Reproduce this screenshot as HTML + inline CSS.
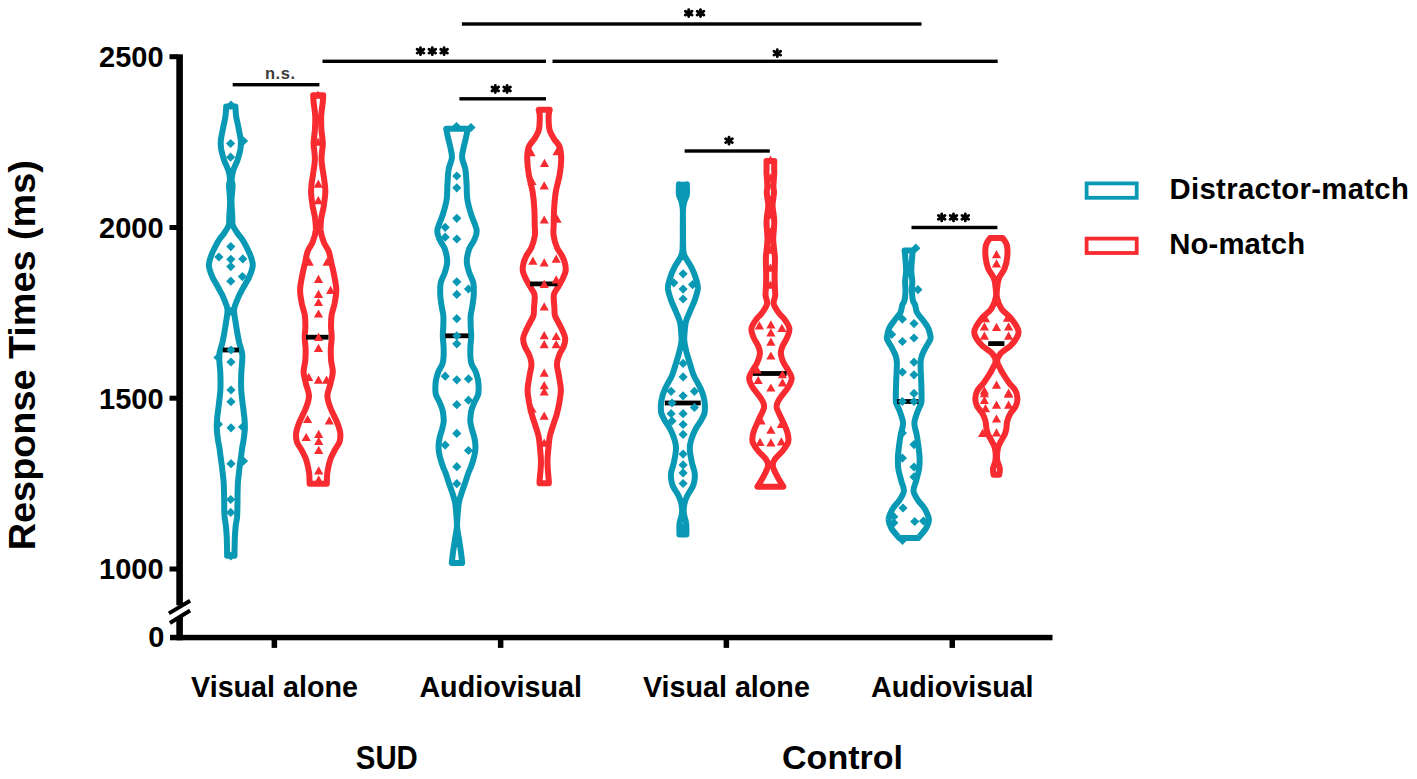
<!DOCTYPE html>
<html><head><meta charset="utf-8"><title>Response Times</title>
<style>html,body{margin:0;padding:0;background:#fff;}svg{display:block;}text{font-family:"Liberation Sans",sans-serif;}</style>
</head><body>
<svg width="1417" height="779" viewBox="0 0 1417 779" font-family="Liberation Sans, sans-serif">
<rect width="1417" height="779" fill="#fff"/>
<g fill="#000">
<rect x="176.3" y="54.3" width="6.6" height="551"/>
<rect x="176.3" y="617" width="6.6" height="23.3"/>
<rect x="170" y="634.8" width="882.5" height="5.5"/>
<rect x="169.5" y="54.2" width="8" height="5"/>
<rect x="169.5" y="225.0" width="8" height="5"/>
<rect x="169.5" y="395.7" width="8" height="5"/>
<rect x="169.5" y="566.5" width="8" height="5"/>
<rect x="271.6" y="636" width="5.5" height="11.9"/>
<rect x="497.9" y="636" width="5.5" height="11.9"/>
<rect x="723.6" y="636" width="5.5" height="11.9"/>
<rect x="949.5" y="636" width="5.5" height="11.9"/>
</g>
<g stroke="#000" stroke-width="3.9" fill="none"><line x1="168.9" y1="613.4" x2="190.1" y2="600.8"/><line x1="169.9" y1="623" x2="190.1" y2="610.5"/></g>
<g font-weight="bold" font-size="29" text-anchor="end" fill="#000">
<text x="163.6" y="67.0">2500</text>
<text x="163.6" y="237.8">2000</text>
<text x="163.6" y="408.5">1500</text>
<text x="163.6" y="579.3">1000</text>
<text x="164.3" y="647.3">0</text>
</g>
<g font-weight="bold" font-size="28.7" text-anchor="middle" fill="#000">
<text x="274.5" y="696.5">Visual alone</text>
<text x="500.7" y="696.5">Audiovisual</text>
<text x="726.4" y="696.5">Visual alone</text>
<text x="952.3" y="696.5">Audiovisual</text>
</g>
<text transform="translate(386.8,768.6) scale(0.865,1)" font-weight="bold" font-size="34" text-anchor="middle">SUD</text>
<text x="842.5" y="768.6" font-weight="bold" font-size="34" text-anchor="middle">Control</text>
<text transform="translate(34.9,355.2) rotate(-90)" font-weight="bold" font-size="37.8" text-anchor="middle">Response Times (ms)</text>
<rect x="1086.6" y="183.4" width="50.1" height="14.4" fill="none" stroke="#0999b4" stroke-width="3.8"/>
<rect x="1086.6" y="238.6" width="50.1" height="14.4" fill="none" stroke="#f72b30" stroke-width="3.8"/>
<text x="1169.5" y="199.2" font-weight="bold" font-size="29.3" letter-spacing="0.33">Distractor-match</text>
<text x="1169.3" y="254.4" font-weight="bold" font-size="29.3" letter-spacing="0.1">No-match</text>
<g fill="#000">
<rect x="461.9" y="22.3" width="459.6" height="3.4"/>
<rect x="322.5" y="59.6" width="223.5" height="3.4"/>
<rect x="552.5" y="59.6" width="445.2" height="3.4"/>
<rect x="232.7" y="83.0" width="86.7" height="3.4"/>
<rect x="459.4" y="97.1" width="86.6" height="3.4"/>
<rect x="684.6" y="149.3" width="85.2" height="3.4"/>
<rect x="911.5" y="225.8" width="85.9" height="3.4"/>
</g>
<path d="M688.70,9.60L688.70,16.60M685.37,11.18L692.03,15.02M685.37,15.02L692.03,11.18M700.50,9.60L700.50,16.60M697.17,11.18L703.83,15.02M697.17,15.02L703.83,11.18M420.50,47.70L420.50,54.70M417.17,49.28L423.83,53.12M417.17,53.12L423.83,49.28M432.30,47.70L432.30,54.70M428.97,49.28L435.63,53.12M428.97,53.12L435.63,49.28M444.10,47.70L444.10,54.70M440.77,49.28L447.43,53.12M440.77,53.12L447.43,49.28M777.30,49.70L777.30,56.70M773.97,51.28L780.63,55.12M773.97,55.12L780.63,51.28M495.30,85.50L495.30,92.50M491.97,87.08L498.63,90.92M491.97,90.92L498.63,87.08M507.10,85.50L507.10,92.50M503.77,87.08L510.43,90.92M503.77,90.92L510.43,87.08M729.00,137.20L729.00,144.20M725.67,138.77L732.33,142.62M725.67,142.62L732.33,138.77M941.70,213.90L941.70,220.90M938.37,215.47L945.03,219.33M938.37,219.33L945.03,215.47M953.50,213.90L953.50,220.90M950.17,215.47L956.83,219.33M950.17,219.33L956.83,215.47M965.30,213.90L965.30,220.90M961.97,215.47L968.63,219.33M961.97,219.33L968.63,215.47" stroke="#000" stroke-width="2.8" stroke-linecap="round" fill="none"/>
<text x="280.3" y="79" font-size="16.5" font-weight="bold" text-anchor="middle" fill="#3c3c3c" letter-spacing="0.6">n.s.</text>
<path d="M235.4,106.5 C235.5,108.2 235.7,113.3 236.2,116.8 C236.8,120.3 237.7,123.7 238.5,127.7 C239.2,131.7 240.5,137.2 240.8,140.8 C241.1,144.4 240.9,146.2 240.4,149.5 C239.8,152.8 238.6,156.8 237.4,160.4 C236.1,164.0 233.9,168.0 233.0,171.3 C232.0,174.6 231.7,177.7 231.6,180.0 C231.5,182.3 232.6,181.9 232.6,185.4 C232.6,188.9 231.6,195.7 231.5,200.8 C231.4,205.9 232.1,212.2 232.3,216.2 C232.5,220.2 232.0,222.2 232.8,225.0 C233.6,227.8 235.8,230.7 237.3,233.0 C238.8,235.3 240.4,236.6 241.9,238.9 C243.4,241.2 245.0,244.0 246.3,246.6 C247.6,249.2 248.9,251.5 250.0,254.3 C251.0,257.1 252.3,260.9 252.7,263.5 C253.0,266.1 252.5,267.4 251.9,269.7 C251.3,272.0 250.2,274.8 249.0,277.4 C247.8,280.0 246.2,282.5 244.8,285.1 C243.3,287.7 241.7,290.5 240.5,292.8 C239.3,295.1 238.7,296.2 237.6,299.0 C236.5,301.8 234.4,305.4 234.1,309.5 C233.8,313.6 235.0,318.4 235.8,323.8 C236.6,329.2 237.9,336.6 239.0,341.8 C240.1,347.0 241.9,349.8 242.3,355.0 C242.7,360.2 241.5,367.0 241.3,373.0 C241.1,379.0 240.8,383.5 241.3,391.0 C241.8,398.5 243.8,411.8 244.4,418.0 C245.0,424.2 244.9,425.4 244.9,428.2 C244.8,431.0 244.5,432.5 244.3,434.6 C244.1,436.8 243.7,439.0 243.4,441.1 C243.1,443.2 242.6,445.4 242.2,447.5 C241.9,449.6 241.7,451.8 241.4,453.9 C241.1,456.0 240.8,458.2 240.5,460.3 C240.2,462.4 239.9,464.6 239.7,466.7 C239.4,468.8 239.2,470.5 238.9,473.2 C238.6,475.9 238.1,479.6 237.9,482.8 C237.7,486.0 237.7,489.3 237.6,492.5 C237.5,495.7 237.5,498.9 237.5,502.1 C237.4,505.3 237.4,509.0 237.3,511.7 C237.2,514.4 237.2,515.7 237.0,518.1 C236.7,520.5 236.0,522.9 235.7,525.9 C235.4,528.9 235.1,532.8 234.9,536.2 C234.7,539.6 234.7,543.4 234.6,546.5 C234.5,549.6 234.5,553.2 234.5,554.7 C234.5,556.2 234.5,555.6 234.5,555.8 L227.1,555.8 C227.1,555.6 227.1,556.2 227.1,554.7 C227.1,553.2 227.1,549.6 227.0,546.5 C226.9,543.4 226.9,539.6 226.7,536.2 C226.5,532.8 226.2,528.9 225.9,525.9 C225.6,522.9 224.9,520.5 224.7,518.1 C224.4,515.7 224.4,514.4 224.3,511.7 C224.2,509.0 224.2,505.3 224.2,502.1 C224.1,498.9 224.1,495.7 224.0,492.5 C223.9,489.3 223.9,486.0 223.7,482.8 C223.5,479.6 223.0,475.9 222.7,473.2 C222.4,470.5 222.2,468.8 222.0,466.7 C221.7,464.6 221.4,462.4 221.1,460.3 C220.8,458.2 220.5,456.0 220.2,453.9 C219.9,451.8 219.7,449.6 219.4,447.5 C219.0,445.4 218.5,443.2 218.2,441.1 C217.9,439.0 217.5,436.8 217.3,434.6 C217.1,432.5 216.8,431.0 216.8,428.2 C216.7,425.4 216.6,424.2 217.2,418.0 C217.8,411.8 219.8,398.5 220.3,391.0 C220.8,383.5 220.5,379.0 220.3,373.0 C220.1,367.0 218.9,360.2 219.3,355.0 C219.7,349.8 221.5,347.0 222.6,341.8 C223.7,336.6 225.0,329.2 225.8,323.8 C226.6,318.4 227.8,313.6 227.5,309.5 C227.2,305.4 225.1,301.8 224.0,299.0 C222.9,296.2 222.3,295.1 221.1,292.8 C219.9,290.5 218.3,287.7 216.9,285.1 C215.4,282.5 213.8,280.0 212.6,277.4 C211.4,274.8 210.3,272.0 209.7,269.7 C209.1,267.4 208.6,266.1 209.0,263.5 C209.3,260.9 210.6,257.1 211.7,254.3 C212.7,251.5 214.0,249.2 215.3,246.6 C216.6,244.0 218.2,241.2 219.7,238.9 C221.2,236.6 222.8,235.3 224.3,233.0 C225.8,230.7 228.0,227.8 228.8,225.0 C229.6,222.2 229.1,220.2 229.3,216.2 C229.5,212.2 230.2,205.9 230.1,200.8 C230.1,195.7 229.0,188.9 229.0,185.4 C229.0,181.9 230.1,182.3 230.0,180.0 C229.9,177.7 229.6,174.6 228.7,171.3 C227.7,168.0 225.5,164.0 224.2,160.4 C223.0,156.8 221.8,152.8 221.2,149.5 C220.7,146.2 220.5,144.4 220.8,140.8 C221.1,137.2 222.4,131.7 223.2,127.7 C223.9,123.7 224.8,120.3 225.4,116.8 C225.9,113.3 226.1,108.2 226.2,106.5 Z" fill="none" stroke="#0999b4" stroke-width="6.0" stroke-linejoin="round"/>
<path d="M323.2,95.2 C323.1,96.3 323.2,98.5 322.8,101.9 C322.5,105.3 321.4,111.1 321.2,115.7 C321.0,120.3 321.2,125.0 321.4,129.6 C321.7,134.2 322.8,139.7 322.8,143.5 C322.9,147.3 322.1,149.8 321.9,152.7 C321.7,155.6 321.4,157.5 321.6,160.8 C321.7,164.1 322.5,168.5 323.1,172.3 C323.6,176.2 324.4,180.4 324.8,183.9 C325.1,187.4 325.5,189.3 325.3,193.2 C325.1,197.0 324.2,202.8 323.6,207.0 C322.9,211.2 321.7,214.8 321.2,218.6 C320.8,222.4 320.3,226.2 320.6,230.1 C321.0,233.9 322.2,238.1 323.6,241.7 C324.9,245.3 327.4,247.9 328.8,251.5 C330.1,255.1 330.5,259.2 331.4,263.1 C332.3,267.0 333.2,270.2 334.0,274.6 C334.8,279.0 336.2,284.9 336.3,289.7 C336.4,294.5 335.3,299.3 334.6,303.5 C333.8,307.7 332.2,311.4 331.6,315.1 C331.1,318.9 331.0,322.3 331.0,326.0 C331.0,329.7 331.7,333.5 331.7,337.3 C331.7,341.1 330.9,345.0 330.8,348.9 C330.7,352.8 330.8,356.5 331.1,360.4 C331.4,364.2 332.9,368.1 332.8,372.0 C332.7,375.9 331.4,379.5 330.5,383.5 C329.6,387.5 327.4,391.9 327.4,396.0 C327.4,400.1 328.9,403.7 330.4,407.8 C331.9,411.9 335.0,417.5 336.4,420.7 C337.8,423.9 338.1,424.7 338.8,427.0 C339.5,429.3 340.3,431.8 340.4,434.3 C340.5,436.8 340.4,439.4 339.5,442.0 C338.6,444.6 336.5,446.8 335.0,449.7 C333.5,452.6 331.7,455.5 330.4,459.2 C329.1,462.9 328.0,468.2 327.4,472.1 C326.8,476.0 326.9,480.4 326.8,482.3 C326.7,484.2 326.8,483.6 326.8,483.8 L309.6,483.8 C309.6,483.6 309.7,484.2 309.6,482.3 C309.5,480.4 309.6,476.0 309.0,472.1 C308.4,468.2 307.3,462.9 306.0,459.2 C304.7,455.5 302.9,452.6 301.4,449.7 C299.9,446.8 297.8,444.6 296.9,442.0 C296.0,439.4 295.9,436.8 296.0,434.3 C296.1,431.8 296.9,429.3 297.6,427.0 C298.3,424.7 298.6,423.9 300.0,420.7 C301.4,417.5 304.5,411.9 306.0,407.8 C307.5,403.7 309.0,400.1 309.0,396.0 C309.0,391.9 306.8,387.5 305.9,383.5 C305.0,379.5 303.7,375.9 303.6,372.0 C303.5,368.1 305.0,364.2 305.3,360.4 C305.6,356.5 305.7,352.8 305.6,348.9 C305.5,345.0 304.7,341.1 304.7,337.3 C304.7,333.5 305.4,329.7 305.4,326.0 C305.4,322.3 305.3,318.9 304.8,315.1 C304.2,311.4 302.6,307.7 301.8,303.5 C301.1,299.3 300.0,294.5 300.1,289.7 C300.2,284.9 301.6,279.0 302.4,274.6 C303.2,270.2 304.1,267.0 305.0,263.1 C305.9,259.2 306.3,255.1 307.6,251.5 C309.0,247.9 311.5,245.3 312.8,241.7 C314.2,238.1 315.4,233.9 315.8,230.1 C316.1,226.2 315.6,222.4 315.1,218.6 C314.7,214.8 313.5,211.2 312.8,207.0 C312.2,202.8 311.2,197.0 311.1,193.2 C310.9,189.3 311.3,187.4 311.6,183.9 C312.0,180.4 312.8,176.2 313.3,172.3 C313.9,168.5 314.7,164.1 314.8,160.8 C315.0,157.5 314.7,155.6 314.5,152.7 C314.3,149.8 313.5,147.3 313.6,143.5 C313.6,139.7 314.7,134.2 314.9,129.6 C315.2,125.0 315.4,120.3 315.2,115.7 C315.0,111.1 313.9,105.3 313.6,101.9 C313.2,98.5 313.3,96.3 313.2,95.2 Z" fill="none" stroke="#f72b30" stroke-width="6.0" stroke-linejoin="round"/>
<path d="M467.8,128.8 C467.5,130.2 466.8,134.1 466.1,137.2 C465.4,140.3 464.3,144.1 463.6,147.5 C462.9,150.9 461.8,154.2 462.1,157.9 C462.5,161.6 464.7,165.3 465.4,169.7 C466.2,174.1 466.2,179.6 466.6,184.5 C466.9,189.4 466.6,194.3 467.3,199.2 C468.0,204.1 469.4,208.9 471.0,214.0 C472.6,219.1 476.0,225.6 476.6,229.8 C477.2,234.1 475.7,236.3 474.4,239.5 C473.2,242.7 470.4,245.4 469.1,249.1 C467.9,252.8 466.7,257.6 466.8,261.6 C466.8,265.6 468.3,269.7 469.4,273.2 C470.5,276.7 472.6,279.3 473.3,282.8 C474.0,286.3 473.9,290.2 473.8,294.0 C473.7,297.8 473.0,301.7 472.5,305.3 C472.0,308.9 471.0,312.1 470.7,315.5 C470.4,318.9 470.6,322.4 470.7,325.8 C470.8,329.2 471.2,332.7 471.2,336.1 C471.2,339.5 470.6,342.9 470.4,346.3 C470.3,349.7 470.2,353.7 470.4,356.6 C470.6,359.5 470.7,361.4 471.6,363.9 C472.5,366.4 474.5,369.0 475.6,371.6 C476.6,374.2 477.3,376.7 477.9,379.3 C478.4,381.9 478.6,384.4 478.6,387.0 C478.7,389.6 478.8,392.1 478.1,394.7 C477.3,397.3 475.5,399.8 474.4,402.4 C473.3,404.9 472.1,407.7 471.5,410.0 C470.9,412.3 470.8,414.1 470.6,416.0 C470.4,417.9 470.1,419.4 470.3,421.6 C470.5,423.8 471.2,426.7 471.9,429.3 C472.6,431.9 473.7,434.4 474.2,437.0 C474.8,439.6 475.2,442.1 475.4,444.7 C475.5,447.3 475.4,449.8 475.0,452.4 C474.6,455.0 474.0,457.5 473.2,460.1 C472.5,462.7 471.4,465.6 470.6,467.8 C469.7,470.0 469.0,471.3 468.2,473.5 C467.4,475.7 466.8,477.9 465.8,480.9 C464.8,483.8 463.4,487.8 462.2,491.2 C461.1,494.6 459.9,498.1 459.1,501.5 C458.4,504.9 458.2,507.5 457.9,511.7 C457.6,515.9 456.9,522.1 457.1,526.7 C457.3,531.3 458.4,535.0 459.0,539.2 C459.6,543.4 460.4,547.9 460.9,551.7 C461.4,555.5 461.9,559.9 462.1,561.8 C462.4,563.7 462.1,562.7 462.1,562.9 L451.9,562.9 C451.9,562.7 451.6,563.7 451.9,561.8 C452.1,559.9 452.6,555.5 453.1,551.7 C453.6,547.9 454.4,543.4 455.0,539.2 C455.6,535.0 456.7,531.3 456.9,526.7 C457.1,522.1 456.4,515.9 456.1,511.7 C455.8,507.5 455.6,504.9 454.9,501.5 C454.1,498.1 452.9,494.6 451.8,491.2 C450.6,487.8 449.2,483.8 448.2,480.9 C447.2,477.9 446.6,475.7 445.8,473.5 C445.0,471.3 444.3,470.0 443.4,467.8 C442.6,465.6 441.5,462.7 440.8,460.1 C440.0,457.5 439.4,455.0 439.0,452.4 C438.6,449.8 438.5,447.3 438.6,444.7 C438.8,442.1 439.2,439.6 439.8,437.0 C440.3,434.4 441.4,431.9 442.1,429.3 C442.8,426.7 443.5,423.8 443.7,421.6 C443.9,419.4 443.6,417.9 443.4,416.0 C443.2,414.1 443.1,412.3 442.5,410.0 C441.9,407.7 440.7,404.9 439.6,402.4 C438.5,399.8 436.7,397.3 435.9,394.7 C435.2,392.1 435.3,389.6 435.4,387.0 C435.4,384.4 435.6,381.9 436.1,379.3 C436.7,376.7 437.4,374.2 438.4,371.6 C439.5,369.0 441.5,366.4 442.4,363.9 C443.3,361.4 443.4,359.5 443.6,356.6 C443.8,353.7 443.7,349.7 443.6,346.3 C443.4,342.9 442.8,339.5 442.8,336.1 C442.8,332.7 443.2,329.2 443.3,325.8 C443.4,322.4 443.6,318.9 443.3,315.5 C443.0,312.1 442.0,308.9 441.5,305.3 C441.0,301.7 440.3,297.8 440.2,294.0 C440.1,290.2 440.0,286.3 440.7,282.8 C441.4,279.3 443.5,276.7 444.6,273.2 C445.7,269.7 447.2,265.6 447.2,261.6 C447.3,257.6 446.1,252.8 444.9,249.1 C443.6,245.4 440.8,242.7 439.6,239.5 C438.3,236.3 436.8,234.1 437.4,229.8 C438.0,225.6 441.4,219.1 443.0,214.0 C444.6,208.9 446.0,204.1 446.7,199.2 C447.4,194.3 447.1,189.4 447.4,184.5 C447.8,179.6 447.8,174.1 448.6,169.7 C449.3,165.3 451.5,161.6 451.9,157.9 C452.2,154.2 451.1,150.9 450.4,147.5 C449.7,144.1 448.6,140.3 447.9,137.2 C447.2,134.1 446.5,130.2 446.2,128.8 Z" fill="none" stroke="#0999b4" stroke-width="6.0" stroke-linejoin="round"/>
<path d="M549.7,109.7 C549.5,110.9 548.6,113.3 548.6,116.7 C548.6,120.1 548.7,126.4 549.6,130.0 C550.5,133.6 552.1,135.6 553.8,138.4 C555.4,141.2 558.3,143.4 559.6,146.7 C560.8,150.0 561.2,153.7 561.2,158.4 C561.2,163.1 560.5,169.4 559.6,175.0 C558.6,180.6 556.7,186.2 555.8,191.8 C554.9,197.4 554.5,202.9 554.1,208.5 C553.8,214.1 553.8,220.7 553.7,225.2 C553.6,229.7 553.0,231.7 553.6,235.4 C554.1,239.2 555.6,244.4 557.0,247.7 C558.4,251.0 560.5,252.8 561.8,255.4 C563.1,258.0 564.3,260.5 564.9,263.1 C565.5,265.7 566.0,268.2 565.7,270.8 C565.3,273.4 563.9,275.9 562.8,278.5 C561.6,281.1 560.0,283.6 558.6,286.2 C557.1,288.8 554.9,291.5 554.1,293.9 C553.3,296.3 553.8,298.2 553.8,300.5 C553.9,302.8 554.2,305.2 554.4,307.7 C554.6,310.2 554.2,312.8 554.9,315.4 C555.6,318.0 557.4,320.5 558.7,323.1 C560.0,325.7 561.5,328.2 562.6,330.8 C563.7,333.4 565.1,335.9 565.2,338.5 C565.4,341.1 564.7,343.6 563.8,346.2 C562.8,348.8 560.7,351.6 559.7,353.9 C558.7,356.2 558.1,358.0 557.6,360.0 C557.1,362.0 556.8,363.4 557.0,366.0 C557.2,368.6 558.3,371.9 558.9,375.9 C559.5,379.9 560.8,385.6 560.9,390.1 C560.9,394.7 559.8,399.2 559.2,403.2 C558.5,407.2 557.7,410.5 556.8,414.1 C555.8,417.7 554.3,421.4 553.2,425.0 C552.1,428.6 550.7,432.3 549.9,435.9 C549.1,439.5 549.0,442.3 548.6,446.8 C548.1,451.3 547.4,457.1 547.5,462.8 C547.5,468.5 548.6,477.4 548.8,480.8 C549.0,484.2 548.8,482.8 548.8,483.2 L539.6,483.2 C539.6,482.8 539.4,484.2 539.6,480.8 C539.8,477.4 540.9,468.5 541.0,462.8 C541.0,457.1 540.3,451.3 539.9,446.8 C539.4,442.3 539.3,439.5 538.5,435.9 C537.7,432.3 536.3,428.6 535.2,425.0 C534.1,421.4 532.6,417.7 531.7,414.1 C530.7,410.5 529.9,407.2 529.2,403.2 C528.6,399.2 527.5,394.7 527.6,390.1 C527.6,385.6 528.9,379.9 529.5,375.9 C530.1,371.9 531.2,368.6 531.4,366.0 C531.6,363.4 531.3,362.0 530.8,360.0 C530.4,358.0 529.7,356.2 528.7,353.9 C527.7,351.6 525.6,348.8 524.7,346.2 C523.7,343.6 523.0,341.1 523.2,338.5 C523.3,335.9 524.7,333.4 525.8,330.8 C526.9,328.2 528.4,325.7 529.7,323.1 C531.0,320.5 532.8,318.0 533.5,315.4 C534.2,312.8 533.8,310.2 534.0,307.7 C534.2,305.2 534.5,302.8 534.6,300.5 C534.7,298.2 535.1,296.3 534.3,293.9 C533.5,291.5 531.3,288.8 529.9,286.2 C528.4,283.6 526.8,281.1 525.7,278.5 C524.5,275.9 523.1,273.4 522.8,270.8 C522.4,268.2 522.9,265.7 523.5,263.1 C524.1,260.5 525.3,258.0 526.6,255.4 C527.9,252.8 530.0,251.0 531.4,247.7 C532.8,244.4 534.3,239.2 534.9,235.4 C535.4,231.7 534.8,229.7 534.7,225.2 C534.6,220.7 534.7,214.1 534.3,208.5 C534.0,202.9 533.5,197.4 532.6,191.8 C531.7,186.2 529.8,180.6 528.9,175.0 C527.9,169.4 527.2,163.1 527.2,158.4 C527.2,153.7 527.6,150.0 528.9,146.7 C530.1,143.4 533.0,141.2 534.7,138.4 C536.3,135.6 537.9,133.6 538.8,130.0 C539.7,126.4 539.8,120.1 539.8,116.7 C539.8,113.3 538.9,110.9 538.7,109.7 Z" fill="none" stroke="#f72b30" stroke-width="6.0" stroke-linejoin="round"/>
<path d="M686.9,184.8 C686.9,184.8 686.9,183.4 686.9,185.0 C686.9,186.6 687.3,191.7 686.9,194.5 C686.5,197.3 684.9,199.1 684.3,201.7 C683.6,204.3 683.2,205.6 683.0,209.9 C682.8,214.2 683.0,221.0 683.0,227.3 C683.0,233.6 682.9,243.2 683.2,247.9 C683.5,252.7 683.2,252.6 684.5,255.8 C685.9,259.0 689.5,263.5 691.4,267.3 C693.4,271.1 695.0,275.4 696.0,278.9 C697.1,282.4 698.0,284.7 697.9,288.2 C697.7,291.7 696.2,295.8 694.9,299.7 C693.6,303.6 691.5,307.6 690.0,311.3 C688.5,315.0 686.9,318.1 685.9,321.7 C685.0,325.3 684.8,330.0 684.5,333.2 C684.3,336.4 684.0,337.8 684.3,341.0 C684.6,344.2 685.6,348.5 686.5,352.3 C687.5,356.1 688.8,360.0 690.0,363.9 C691.2,367.8 692.5,372.4 693.8,375.5 C695.0,378.6 696.3,380.2 697.6,382.7 C698.9,385.2 700.4,387.8 701.4,390.4 C702.5,393.0 703.4,395.5 703.9,398.1 C704.5,400.7 704.9,403.2 704.9,405.8 C705.0,408.4 705.1,410.9 704.4,413.5 C703.6,416.1 702.1,418.6 700.7,421.2 C699.3,423.8 697.2,425.9 695.7,428.9 C694.2,431.8 692.5,435.7 691.5,438.9 C690.5,442.1 689.7,444.3 689.8,448.2 C689.8,452.1 690.9,457.7 691.8,462.0 C692.6,466.3 694.5,470.2 694.8,474.0 C695.1,477.8 694.6,481.4 693.4,485.0 C692.2,488.6 688.9,492.4 687.4,495.5 C685.9,498.6 685.1,500.7 684.4,503.7 C683.8,506.7 683.5,510.1 683.8,513.3 C684.0,516.5 685.7,519.7 686.1,522.9 C686.6,526.1 686.4,530.7 686.4,532.6 C686.4,534.5 686.4,534.1 686.4,534.4 L679.4,534.4 C679.4,534.1 679.4,534.5 679.4,532.6 C679.4,530.7 679.2,526.1 679.6,522.9 C680.1,519.7 681.8,516.5 682.0,513.3 C682.3,510.1 682.0,506.7 681.4,503.7 C680.7,500.7 679.9,498.6 678.4,495.5 C676.9,492.4 673.6,488.6 672.4,485.0 C671.2,481.4 670.7,477.8 671.0,474.0 C671.3,470.2 673.2,466.3 674.0,462.0 C674.9,457.7 676.0,452.1 676.0,448.2 C676.1,444.3 675.3,442.1 674.3,438.9 C673.3,435.7 671.6,431.8 670.1,428.9 C668.6,425.9 666.5,423.8 665.1,421.2 C663.7,418.6 662.2,416.1 661.4,413.5 C660.7,410.9 660.8,408.4 660.9,405.8 C660.9,403.2 661.3,400.7 661.9,398.1 C662.4,395.5 663.3,393.0 664.4,390.4 C665.4,387.8 666.9,385.2 668.2,382.7 C669.5,380.2 670.8,378.6 672.0,375.5 C673.3,372.4 674.5,367.8 675.8,363.9 C677.0,360.0 678.3,356.1 679.2,352.3 C680.2,348.5 681.2,344.2 681.5,341.0 C681.8,337.8 681.5,336.4 681.2,333.2 C681.0,330.0 680.8,325.3 679.9,321.7 C678.9,318.1 677.2,315.0 675.8,311.3 C674.2,307.6 672.2,303.6 670.9,299.7 C669.5,295.8 668.1,291.7 667.9,288.2 C667.8,284.7 668.7,282.4 669.8,278.9 C670.8,275.4 672.4,271.1 674.4,267.3 C676.3,263.5 679.9,259.0 681.2,255.8 C682.6,252.6 682.3,252.7 682.6,247.9 C682.9,243.2 682.8,233.6 682.8,227.3 C682.8,221.0 683.0,214.2 682.8,209.9 C682.6,205.6 682.1,204.3 681.5,201.7 C680.9,199.1 679.3,197.3 678.9,194.5 C678.5,191.7 678.9,186.6 678.9,185.0 C678.9,183.4 678.9,184.8 678.9,184.8 Z" fill="none" stroke="#0999b4" stroke-width="6.0" stroke-linejoin="round"/>
<path d="M774.3,161.0 C774.3,162.2 774.1,166.1 774.1,168.0 C774.1,169.9 774.4,169.5 774.3,172.5 C774.2,175.5 773.5,182.6 773.4,186.0 C773.4,189.4 774.2,190.0 774.0,193.0 C773.9,196.0 772.8,201.3 772.6,203.9 C772.4,206.5 772.5,205.5 772.8,208.5 C773.1,211.5 774.2,216.7 774.3,221.9 C774.4,227.1 773.1,233.9 773.2,239.9 C773.4,245.9 774.7,251.8 774.9,257.8 C775.1,263.8 774.6,270.4 774.6,275.8 C774.6,281.2 774.9,286.7 775.0,290.0 C775.1,293.3 775.4,293.5 775.2,295.8 C775.0,298.1 773.1,301.0 773.7,303.9 C774.3,306.8 777.1,310.5 778.9,313.1 C780.8,315.7 782.9,316.9 784.6,319.5 C786.4,322.1 789.0,325.5 789.4,328.5 C789.9,331.5 788.3,334.5 787.1,337.5 C786.0,340.5 783.5,343.7 782.4,346.4 C781.4,349.1 780.7,350.9 780.9,353.6 C781.0,356.3 782.2,359.6 783.5,362.6 C784.9,365.6 787.6,369.0 788.9,371.6 C790.3,374.2 791.8,375.9 791.7,378.5 C791.6,381.1 790.2,383.9 788.2,387.3 C786.2,390.7 781.4,395.6 779.5,398.9 C777.6,402.2 776.3,403.7 776.6,407.0 C777.0,410.3 779.8,414.6 781.5,418.6 C783.3,422.7 785.9,427.8 787.0,431.3 C788.2,434.8 788.4,437.3 788.5,439.4 C788.6,441.5 788.5,441.9 787.4,443.9 C786.4,445.9 784.2,449.0 782.0,451.6 C779.9,454.2 776.3,457.0 774.8,459.3 C773.2,461.6 772.6,463.1 772.8,465.4 C772.9,467.7 774.3,470.5 775.5,473.1 C776.7,475.7 778.4,478.6 779.7,480.8 C781.0,483.0 782.6,485.2 783.2,486.2 C783.8,487.2 783.2,486.6 783.2,486.7 L757.6,486.7 C757.6,486.6 757.0,487.2 757.6,486.2 C758.2,485.2 759.8,483.0 761.1,480.8 C762.4,478.6 764.1,475.7 765.3,473.1 C766.5,470.5 767.9,467.7 768.0,465.4 C768.2,463.1 767.6,461.6 766.0,459.3 C764.5,457.0 760.9,454.2 758.8,451.6 C756.6,449.0 754.4,445.9 753.4,443.9 C752.3,441.9 752.2,441.5 752.3,439.4 C752.4,437.3 752.6,434.8 753.8,431.3 C754.9,427.8 757.5,422.7 759.2,418.6 C761.0,414.6 763.8,410.3 764.1,407.0 C764.5,403.7 763.2,402.2 761.3,398.9 C759.4,395.6 754.6,390.7 752.6,387.3 C750.6,383.9 749.2,381.1 749.1,378.5 C749.0,375.9 750.5,374.2 751.9,371.6 C753.2,369.0 755.9,365.6 757.2,362.6 C758.6,359.6 759.8,356.3 759.9,353.6 C760.1,350.9 759.4,349.1 758.4,346.4 C757.3,343.7 754.8,340.5 753.6,337.5 C752.5,334.5 750.9,331.5 751.4,328.5 C751.8,325.5 754.4,322.1 756.2,319.5 C757.9,316.9 760.0,315.7 761.9,313.1 C763.7,310.5 766.5,306.8 767.1,303.9 C767.7,301.0 765.8,298.1 765.6,295.8 C765.4,293.5 765.6,293.3 765.8,290.0 C765.9,286.7 766.2,281.2 766.2,275.8 C766.2,270.4 765.7,263.8 765.9,257.8 C766.1,251.8 767.4,245.9 767.5,239.9 C767.6,233.9 766.4,227.1 766.5,221.9 C766.6,216.7 767.7,211.5 768.0,208.5 C768.3,205.5 768.4,206.5 768.2,203.9 C768.0,201.3 766.9,196.0 766.8,193.0 C766.6,190.0 767.4,189.4 767.4,186.0 C767.3,182.6 766.6,175.5 766.5,172.5 C766.4,169.5 766.6,169.9 766.6,168.0 C766.6,166.1 766.5,162.2 766.5,161.0 Z" fill="none" stroke="#f72b30" stroke-width="6.0" stroke-linejoin="round"/>
<path d="M912.9,250.5 C912.8,251.3 912.6,252.0 912.3,255.4 C912.0,258.8 911.3,266.5 911.3,270.8 C911.3,275.1 912.2,277.6 912.3,281.0 C912.4,284.4 911.8,287.8 911.9,291.0 C912.0,294.2 912.4,298.2 912.9,300.5 C913.4,302.8 914.4,303.0 915.1,305.0 C915.8,307.0 915.7,310.1 917.1,312.7 C918.4,315.3 921.2,317.8 923.1,320.4 C924.9,323.0 927.0,325.5 928.2,328.1 C929.5,330.7 930.0,333.9 930.4,335.8 C930.7,337.7 930.9,337.8 930.2,339.7 C929.4,341.6 927.1,344.8 925.8,347.4 C924.4,350.0 922.9,352.5 922.1,355.1 C921.2,357.7 920.7,358.5 920.6,362.8 C920.4,367.1 921.0,374.8 921.2,380.8 C921.4,386.8 921.6,394.9 921.6,398.7 C921.6,402.5 921.7,401.4 921.0,403.5 C920.3,405.6 918.7,408.3 917.6,411.6 C916.4,414.9 914.5,419.2 914.4,423.1 C914.2,427.0 916.0,430.9 916.7,434.7 C917.4,438.5 917.9,442.3 918.4,446.2 C918.9,450.1 919.5,453.9 919.6,457.8 C919.7,461.7 919.6,465.5 919.0,469.4 C918.4,473.2 917.0,477.3 916.1,480.9 C915.2,484.5 913.2,487.8 913.5,491.0 C913.8,494.2 916.0,497.1 917.9,500.1 C919.8,503.1 922.9,505.6 924.7,508.8 C926.5,512.0 928.6,516.1 928.9,519.3 C929.1,522.5 927.8,525.1 926.2,528.0 C924.6,530.9 920.6,535.1 919.2,536.8 C917.9,538.5 918.4,537.9 918.2,538.1 L899.2,538.1 C899.0,537.9 899.5,538.5 898.2,536.8 C896.8,535.1 892.8,530.9 891.2,528.0 C889.6,525.1 888.3,522.5 888.6,519.3 C888.8,516.1 890.9,512.0 892.7,508.8 C894.5,505.6 897.6,503.1 899.5,500.1 C901.4,497.1 903.6,494.2 903.9,491.0 C904.2,487.8 902.2,484.5 901.3,480.9 C900.4,477.3 899.0,473.2 898.4,469.4 C897.8,465.5 897.8,461.7 897.9,457.8 C898.0,453.9 898.5,450.1 899.0,446.2 C899.5,442.3 900.0,438.5 900.7,434.7 C901.4,430.9 903.2,427.0 903.1,423.1 C902.9,419.2 901.0,414.9 899.9,411.6 C898.7,408.3 897.1,405.6 896.4,403.5 C895.7,401.4 895.8,402.5 895.8,398.7 C895.8,394.9 896.0,386.8 896.2,380.8 C896.4,374.8 897.0,367.1 896.9,362.8 C896.7,358.5 896.2,357.7 895.4,355.1 C894.5,352.5 893.0,350.0 891.7,347.4 C890.3,344.8 888.0,341.6 887.2,339.7 C886.5,337.8 886.7,337.7 887.1,335.8 C887.4,333.9 887.9,330.7 889.2,328.1 C890.4,325.5 892.5,323.0 894.4,320.4 C896.2,317.8 899.0,315.3 900.4,312.7 C901.7,310.1 901.6,307.0 902.3,305.0 C903.0,303.0 904.0,302.8 904.5,300.5 C905.0,298.2 905.4,294.2 905.5,291.0 C905.6,287.8 905.0,284.4 905.1,281.0 C905.2,277.6 906.1,275.1 906.1,270.8 C906.1,266.5 905.4,258.8 905.1,255.4 C904.8,252.0 904.6,251.3 904.5,250.5 Z" fill="none" stroke="#0999b4" stroke-width="6.0" stroke-linejoin="round"/>
<path d="M1002.6,237.9 C1003.4,239.1 1006.2,242.1 1006.9,245.3 C1007.7,248.5 1007.6,253.0 1007.2,256.9 C1006.9,260.8 1006.0,264.9 1004.6,268.4 C1003.3,271.9 1000.4,274.8 999.2,277.7 C998.0,280.6 997.8,282.4 997.4,285.7 C997.1,289.0 996.2,293.4 996.9,297.3 C997.5,301.2 999.5,305.7 1001.5,308.8 C1003.5,311.9 1007.0,314.1 1008.7,315.8 C1010.4,317.5 1010.2,317.1 1011.5,318.9 C1012.8,320.7 1015.5,324.4 1016.7,326.6 C1017.9,328.8 1018.6,330.1 1018.6,332.0 C1018.6,333.9 1017.9,335.8 1016.5,338.1 C1015.2,340.4 1013.0,343.2 1010.4,345.8 C1007.7,348.4 1002.8,350.9 1000.6,353.5 C998.4,356.1 997.2,358.6 997.2,361.2 C997.2,363.8 999.5,366.9 1000.4,368.9 C1001.3,370.9 1001.2,370.7 1002.6,373.0 C1004.0,375.3 1006.9,379.8 1009.0,382.7 C1011.1,385.6 1013.9,387.8 1015.4,390.4 C1016.8,393.0 1017.3,395.5 1017.4,398.1 C1017.5,400.7 1017.1,403.2 1015.9,405.8 C1014.8,408.4 1011.8,410.9 1010.4,413.5 C1008.9,416.1 1007.9,418.6 1007.2,421.2 C1006.6,423.8 1006.7,426.8 1006.3,428.9 C1005.9,431.0 1005.6,432.2 1004.9,434.0 C1004.1,435.8 1002.9,437.4 1001.8,439.7 C1000.6,442.0 998.8,444.4 998.0,447.7 C997.2,451.0 996.9,455.8 997.1,459.3 C997.4,462.8 999.4,465.9 999.8,468.5 C1000.1,471.1 999.3,473.8 999.2,474.8 L993.6,474.8 C993.5,473.8 992.7,471.1 993.0,468.5 C993.4,465.9 995.4,462.8 995.6,459.3 C995.9,455.8 995.6,451.0 994.8,447.7 C994.0,444.4 992.1,442.0 991.0,439.7 C989.9,437.4 988.6,435.8 987.9,434.0 C987.1,432.2 986.9,431.0 986.5,428.9 C986.1,426.8 986.2,423.8 985.5,421.2 C984.9,418.6 983.9,416.1 982.4,413.5 C981.0,410.9 978.0,408.4 976.9,405.8 C975.7,403.2 975.2,400.7 975.4,398.1 C975.5,395.5 976.0,393.0 977.4,390.4 C978.9,387.8 981.7,385.6 983.8,382.7 C985.9,379.8 988.8,375.3 990.2,373.0 C991.6,370.7 991.5,370.9 992.4,368.9 C993.3,366.9 995.6,363.8 995.6,361.2 C995.6,358.6 994.4,356.1 992.2,353.5 C990.0,350.9 985.1,348.4 982.4,345.8 C979.8,343.2 977.6,340.4 976.2,338.1 C974.9,335.8 974.2,333.9 974.2,332.0 C974.2,330.1 974.9,328.8 976.1,326.6 C977.3,324.4 980.0,320.7 981.3,318.9 C982.6,317.1 982.4,317.5 984.1,315.8 C985.8,314.1 989.3,311.9 991.3,308.8 C993.3,305.7 995.3,301.2 995.9,297.3 C996.6,293.4 995.7,289.0 995.4,285.7 C995.0,282.4 994.8,280.6 993.6,277.7 C992.4,274.8 989.5,271.9 988.1,268.4 C986.8,264.9 985.9,260.8 985.5,256.9 C985.2,253.0 985.1,248.5 985.9,245.3 C986.6,242.1 989.4,239.1 990.1,237.9 Z" fill="none" stroke="#f72b30" stroke-width="6.0" stroke-linejoin="round"/>
<rect x="222.9" y="347.6" width="16.1" height="4.8" fill="#000"/>
<rect x="306.0" y="334.8" width="22.5" height="4.8" fill="#000"/>
<rect x="445.2" y="333.4" width="23.3" height="4.8" fill="#000"/>
<rect x="530.1" y="281.5" width="27.4" height="4.8" fill="#000"/>
<rect x="664.8" y="400.6" width="35.9" height="4.8" fill="#000"/>
<rect x="753.0" y="371.1" width="33.6" height="4.8" fill="#000"/>
<rect x="897.0" y="399.1" width="21.5" height="4.8" fill="#000"/>
<rect x="988.2" y="341.2" width="16.2" height="4.8" fill="#000"/>
<path d="M231.0,100.4L235.6,105.0L231.0,109.6L226.4,105.0ZM243.5,136.4L248.1,141.0L243.5,145.6L238.9,141.0ZM230.6,138.9L235.2,143.5L230.6,148.1L226.0,143.5ZM230.6,152.6L235.2,157.2L230.6,161.8L226.0,157.2ZM230.8,242.0L235.4,246.6L230.8,251.2L226.2,246.6ZM218.9,252.4L223.5,257.0L218.9,261.6L214.3,257.0ZM230.8,254.7L235.4,259.3L230.8,263.9L226.2,259.3ZM242.8,254.3L247.4,258.9L242.8,263.5L238.2,258.9ZM230.8,262.0L235.4,266.6L230.8,271.2L226.2,266.6ZM230.8,276.6L235.4,281.2L230.8,285.8L226.2,281.2ZM242.4,272.0L247.0,276.6L242.4,281.2L237.8,276.6ZM231.0,306.7L235.6,311.3L231.0,315.9L226.4,311.3ZM218.0,352.9L222.6,357.5L218.0,362.1L213.4,357.5ZM231.0,345.4L235.6,350.0L231.0,354.6L226.4,350.0ZM231.0,357.4L235.6,362.0L231.0,366.6L226.4,362.0ZM231.0,385.4L235.6,390.0L231.0,394.6L226.4,390.0ZM231.0,397.1L235.6,401.7L231.0,406.3L226.4,401.7ZM231.0,423.2L235.6,427.8L231.0,432.4L226.4,427.8ZM218.4,419.6L223.0,424.2L218.4,428.8L213.8,424.2ZM242.6,422.3L247.2,426.9L242.6,431.5L238.0,426.9ZM231.0,459.1L235.6,463.7L231.0,468.3L226.4,463.7ZM243.5,456.4L248.1,461.0L243.5,465.6L238.9,461.0ZM230.7,494.9L235.3,499.5L230.7,504.1L226.1,499.5ZM230.7,507.8L235.3,512.4L230.7,517.0L226.1,512.4ZM231.0,551.4L235.6,556.0L231.0,560.6L226.4,556.0Z" fill="#0999b4"/>
<path d="M318.0,90.5L322.6,98.7L313.4,98.7ZM318.2,114.5L322.8,122.7L313.6,122.7ZM318.2,137.5L322.8,145.7L313.6,145.7ZM318.3,179.5L322.9,187.7L313.7,187.7ZM318.3,196.0L322.9,204.2L313.7,204.2ZM309.2,257.5L313.8,265.7L304.6,265.7ZM327.1,257.5L331.7,265.7L322.5,265.7ZM318.5,274.8L323.1,283.0L313.9,283.0ZM330.6,285.7L335.2,293.9L326.0,293.9ZM318.5,289.8L323.1,298.0L313.9,298.0ZM318.5,297.9L323.1,306.1L313.9,306.1ZM318.5,309.4L323.1,317.6L313.9,317.6ZM318.5,332.8L323.1,341.0L313.9,341.0ZM318.5,343.8L323.1,352.0L313.9,352.0ZM308.7,372.7L313.3,380.9L304.1,380.9ZM318.5,375.5L323.1,383.7L313.9,383.7ZM326.6,375.5L331.2,383.7L322.0,383.7ZM307.6,414.9L312.2,423.1L303.0,423.1ZM329.3,416.2L333.9,424.4L324.7,424.4ZM306.2,432.9L310.8,441.1L301.6,441.1ZM318.7,429.7L323.3,437.9L314.1,437.9ZM318.7,436.7L323.3,444.9L314.1,444.9ZM318.7,445.7L323.3,453.9L314.1,453.9ZM318.7,466.3L323.3,474.5L314.1,474.5ZM318.7,475.3L323.3,483.5L314.1,483.5Z" fill="#f72b30"/>
<path d="M471.0,122.9L475.6,127.5L471.0,132.1L466.4,127.5ZM456.5,121.9L461.1,126.5L456.5,131.1L451.9,126.5ZM456.8,171.4L461.4,176.0L456.8,180.6L452.2,176.0ZM456.8,183.2L461.4,187.8L456.8,192.4L452.2,187.8ZM456.8,213.7L461.4,218.3L456.8,222.9L452.2,218.3ZM445.2,222.7L449.8,227.3L445.2,231.9L440.6,227.3ZM445.2,232.6L449.8,237.2L445.2,241.8L440.6,237.2ZM456.8,234.4L461.4,239.0L456.8,243.6L452.2,239.0ZM456.8,277.2L461.4,281.8L456.8,286.4L452.2,281.8ZM468.5,284.4L473.1,289.0L468.5,293.6L463.9,289.0ZM456.8,289.8L461.4,294.4L456.8,299.0L452.2,294.4ZM456.8,314.1L461.4,318.7L456.8,323.3L452.2,318.7ZM456.8,331.2L461.4,335.8L456.8,340.4L452.2,335.8ZM456.8,339.2L461.4,343.8L456.8,348.4L452.2,343.8ZM445.2,371.6L449.8,376.2L445.2,380.8L440.6,376.2ZM456.8,375.2L461.4,379.8L456.8,384.4L452.2,379.8ZM468.5,374.3L473.1,378.9L468.5,383.5L463.9,378.9ZM456.8,400.1L461.4,404.7L456.8,409.3L452.2,404.7ZM468.5,395.6L473.1,400.2L468.5,404.8L463.9,400.2ZM456.8,428.8L461.4,433.4L456.8,438.0L452.2,433.4ZM445.2,440.5L449.8,445.1L445.2,449.7L440.6,445.1ZM468.5,445.9L473.1,450.5L468.5,455.1L463.9,450.5ZM456.8,462.1L461.4,466.7L456.8,471.3L452.2,466.7ZM456.8,479.1L461.4,483.7L456.8,488.3L452.2,483.7Z" fill="#0999b4"/>
<path d="M544.5,158.8L549.1,167.0L539.9,167.0ZM544.2,181.3L548.8,189.5L539.6,189.5ZM544.2,215.4L548.8,223.6L539.6,223.6ZM531.0,148.0L535.6,156.2L526.4,156.2ZM557.1,147.1L561.7,155.3L552.5,155.3ZM532.0,176.8L536.6,185.0L527.4,185.0ZM557.1,214.5L561.7,222.7L552.5,222.7ZM532.9,256.5L537.5,264.7L528.3,264.7ZM544.2,258.2L548.8,266.4L539.6,266.4ZM556.2,254.6L560.8,262.8L551.6,262.8ZM544.2,279.8L548.8,288.0L539.6,288.0ZM556.2,275.3L560.8,283.5L551.6,283.5ZM544.2,302.3L548.8,310.5L539.6,310.5ZM544.2,331.0L548.8,339.2L539.6,339.2ZM544.2,340.0L548.8,348.2L539.6,348.2ZM556.2,331.9L560.8,340.1L551.6,340.1ZM556.2,340.0L560.8,348.2L551.6,348.2ZM544.2,368.5L548.8,376.7L539.6,376.7ZM544.2,381.1L548.8,389.3L539.6,389.3ZM544.2,387.3L548.8,395.5L539.6,395.5ZM544.2,411.6L548.8,419.8L539.6,419.8ZM532.0,404.4L536.6,412.6L527.4,412.6ZM544.2,438.6L548.8,446.8L539.6,446.8Z" fill="#f72b30"/>
<path d="M683.0,184.4L687.6,189.0L683.0,193.6L678.4,189.0ZM683.0,190.4L687.6,195.0L683.0,199.6L678.4,195.0ZM683.0,523.1L687.6,527.7L683.0,532.3L678.4,527.7ZM683.1,269.2L687.7,273.8L683.1,278.4L678.5,273.8ZM683.1,284.5L687.7,289.1L683.1,293.7L678.5,289.1ZM683.1,294.4L687.7,299.0L683.1,303.6L678.5,299.0ZM673.8,278.2L678.4,282.8L673.8,287.4L669.2,282.8ZM692.6,280.0L697.2,284.6L692.6,289.2L688.0,284.6ZM683.1,358.8L687.7,363.4L683.1,368.0L678.5,363.4ZM683.1,372.3L687.7,376.9L683.1,381.5L678.5,376.9ZM671.1,386.7L675.7,391.3L671.1,395.9L666.5,391.3ZM683.1,391.2L687.7,395.8L683.1,400.4L678.5,395.8ZM694.4,386.7L699.0,391.3L694.4,395.9L689.8,391.3ZM672.0,398.4L676.6,403.0L672.0,407.6L667.4,403.0ZM694.4,402.8L699.0,407.4L694.4,412.0L689.8,407.4ZM671.1,409.1L675.7,413.7L671.1,418.3L666.5,413.7ZM683.1,409.1L687.7,413.7L683.1,418.3L678.5,413.7ZM672.0,416.3L676.6,420.9L672.0,425.5L667.4,420.9ZM683.1,419.9L687.7,424.5L683.1,429.1L678.5,424.5ZM683.1,429.8L687.7,434.4L683.1,439.0L678.5,434.4ZM683.1,449.5L687.7,454.1L683.1,458.7L678.5,454.1ZM683.1,460.3L687.7,464.9L683.1,469.5L678.5,464.9ZM683.1,468.3L687.7,472.9L683.1,477.5L678.5,472.9ZM683.1,478.9L687.7,483.5L683.1,488.1L678.5,483.5Z" fill="#0999b4"/>
<path d="M770.9,320.2L775.5,328.4L766.3,328.4ZM770.9,328.3L775.5,336.5L766.3,336.5ZM770.9,337.5L775.5,345.7L766.3,345.7ZM770.9,351.4L775.5,359.6L766.3,359.6ZM759.4,321.3L764.0,329.5L754.8,329.5ZM781.9,323.7L786.5,331.9L777.3,331.9ZM758.2,375.9L762.8,384.1L753.6,384.1ZM782.5,370.1L787.1,378.3L777.9,378.3ZM782.5,378.2L787.1,386.4L777.9,386.4ZM770.9,383.4L775.5,391.6L766.3,391.6ZM757.0,365.4L761.6,373.6L752.4,373.6ZM770.9,425.6L775.5,433.8L766.3,433.8ZM770.9,438.3L775.5,446.5L766.3,446.5ZM760.0,437.8L764.6,446.0L755.4,446.0ZM781.4,437.2L786.0,445.4L776.8,445.4ZM761.1,416.4L765.7,424.6L756.5,424.6ZM781.4,419.8L786.0,428.0L776.8,428.0ZM770.5,155.5L775.1,163.7L765.9,163.7ZM770.5,173.5L775.1,181.7L765.9,181.7ZM770.5,195.5L775.1,203.7L765.9,203.7ZM770.5,210.5L775.1,218.7L765.9,218.7ZM770.5,227.5L775.1,235.7L765.9,235.7ZM770.5,245.5L775.1,253.7L765.9,253.7ZM770.5,263.5L775.1,271.7L765.9,271.7ZM770.5,280.5L775.1,288.7L765.9,288.7Z" fill="#f72b30"/>
<path d="M915.8,243.6L920.4,248.2L915.8,252.8L911.2,248.2ZM917.9,285.0L922.5,289.6L917.9,294.2L913.3,289.6ZM902.4,314.5L907.0,319.1L902.4,323.7L897.8,319.1ZM914.0,319.0L918.6,323.6L914.0,328.2L909.4,323.6ZM891.6,329.8L896.2,334.4L891.6,339.0L887.0,334.4ZM902.4,336.9L907.0,341.5L902.4,346.1L897.8,341.5ZM914.0,333.4L918.6,338.0L914.0,342.6L909.4,338.0ZM914.0,357.6L918.6,362.2L914.0,366.8L909.4,362.2ZM902.4,367.5L907.0,372.1L902.4,376.7L897.8,372.1ZM914.0,370.2L918.6,374.8L914.0,379.4L909.4,374.8ZM914.0,388.8L918.6,393.4L914.0,398.0L909.4,393.4ZM902.4,396.9L907.0,401.5L902.4,406.1L897.8,401.5ZM914.0,396.9L918.6,401.5L914.0,406.1L909.4,401.5ZM902.4,428.3L907.0,432.9L902.4,437.5L897.8,432.9ZM914.0,440.0L918.6,444.6L914.0,449.2L909.4,444.6ZM902.4,453.5L907.0,458.1L902.4,462.7L897.8,458.1ZM914.0,462.4L918.6,467.0L914.0,471.6L909.4,467.0ZM914.0,472.3L918.6,476.9L914.0,481.5L909.4,476.9ZM903.0,503.4L907.6,508.0L903.0,512.6L898.4,508.0ZM914.7,516.9L919.3,521.5L914.7,526.1L910.1,521.5ZM893.8,512.1L898.4,516.7L893.8,521.3L889.2,516.7ZM893.8,518.2L898.4,522.8L893.8,527.4L889.2,522.8ZM923.5,516.4L928.1,521.0L923.5,525.6L918.9,521.0ZM902.5,535.7L907.1,540.3L902.5,544.9L897.9,540.3Z" fill="#0999b4"/>
<path d="M996.5,250.1L1001.1,258.3L991.9,258.3ZM996.5,259.3L1001.1,267.5L991.9,267.5ZM996.5,322.8L1001.1,331.0L991.9,331.0ZM984.4,322.2L989.0,330.4L979.8,330.4ZM1008.6,322.2L1013.2,330.4L1004.0,330.4ZM984.4,331.5L989.0,339.7L979.8,339.7ZM1008.6,331.5L1013.2,339.7L1004.0,339.7ZM1007.5,313.5L1012.1,321.7L1002.9,321.7ZM985.5,314.0L990.1,322.2L980.9,322.2ZM996.5,380.6L1001.1,388.8L991.9,388.8ZM984.4,386.3L989.0,394.5L979.8,394.5ZM1008.6,388.6L1013.2,396.8L1004.0,396.8ZM984.4,389.0L989.0,397.2L979.8,397.2ZM984.4,395.9L989.0,404.1L979.8,404.1ZM1008.6,389.5L1013.2,397.7L1004.0,397.7ZM996.5,400.5L1001.1,408.7L991.9,408.7ZM1008.6,400.5L1013.2,408.7L1004.0,408.7ZM985.5,404.0L990.1,412.2L980.9,412.2ZM996.5,414.4L1001.1,422.6L991.9,422.6ZM996.5,428.2L1001.1,436.4L991.9,436.4ZM982.6,428.8L987.2,437.0L978.0,437.0Z" fill="#f72b30"/>
</svg>
</body></html>
